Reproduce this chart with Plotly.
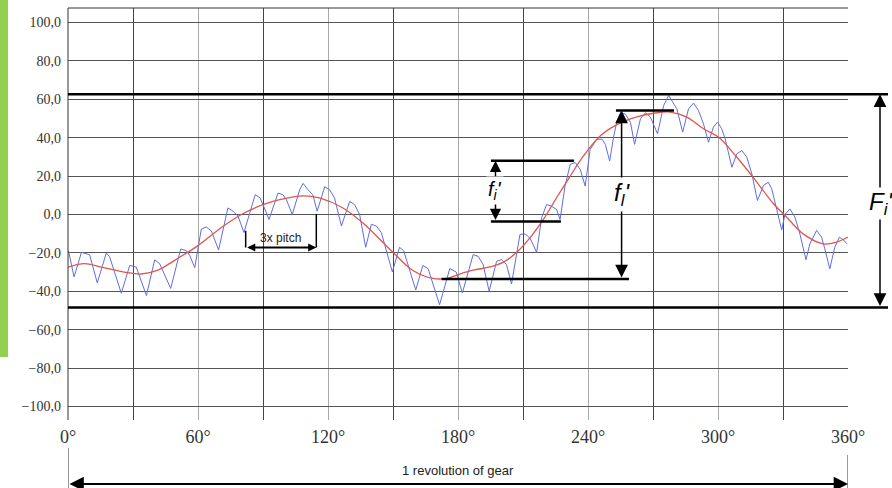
import plotly.graph_objects as go

# ---- data ----
blue_deg = [0.2, 2.8, 6.2, 8, 10, 13.5, 17.7, 19.2, 24.6, 28.5, 31.5, 36.2, 40, 42.3, 47.4, 52, 54.6, 56.2, 58.5,
            61.5, 63.8, 66.2, 69.5, 73.8, 76.2, 78.5, 81.2, 86.4, 88.7,
            90, 92.8, 96.9, 99.2, 100.8, 103.5, 106.9, 108.5, 110.8, 113, 115, 118.5, 120.8, 123, 126.2, 130,
            132.3, 134.6, 137.4, 140, 142.3, 144.6, 149.7, 153, 154.9, 160.5, 163.8, 166.2, 171.5, 176.2, 179.2,
            182, 187, 189.3, 191.6, 194.4, 197.8, 200, 202.4, 204.7, 208.6, 210.9, 213.2, 216.3, 218.6, 220.9,
            223.2, 225.5, 227.1, 229.4, 231.8, 234.1, 236.4, 238.7, 241, 244.1, 246.5, 248, 250, 251.9, 253.4,
            255, 257.3, 259.6, 261.5,
            264.2, 266.5, 268.8, 272.1, 274.9, 277.2, 279.5, 281, 283.7, 286.4, 288.7, 291, 293.3, 295.6, 297.9,
            299.8, 301.7, 303.3, 306.4, 308.7, 311, 313.3, 315.6, 318.2, 321, 323.2, 324.8, 326.3, 329.4, 330.9,
            333.2, 335.5, 337.8, 340.6, 342.4, 345.5, 347.8, 349.3, 351.6, 353.9, 356, 357.8, 359.6]
blue_val = [-18.8, -32.5, -19.7, -20.5, -21, -35.6, -20, -22, -41, -26.5, -27.4, -42.2, -23.6, -25.6, -38.5, -18, -18.8, -21.4, -27.7,
            -7.7, -6.5, -8.6, -18.5, 3.4, 1.7, -0.9, -9.4, 10.3, 8.6,
            5.1, -2.6, 11.1, 10.3, 7.7, 0, 12.8, 16.2, 12.8, 10.3, 1.7, 14.5, 12.8, 8.6, -6, 6.8,
            5.1, 0, -17.1, -5.1, -6, -9.4, -29.9, -17.1, -18.8, -39.3, -26.5, -28.2, -47, -28.2, -30,
            -40.9, -20.9, -21.8, -26.1, -40, -24.4, -23.5, -26.1, -36.2, -10.4, -10.1, -12.2, -19.7, -1.7, 5.2,
            4.3, 2.6, -2.6, 14.8, 26.1, 27, 23.5, 14.8, 33.9, 39.2, 39.2, 36.5, 27.8, 40.9, 48.7,
            53.1, 52.2, 47.9, 36.5,
            49.8, 53, 50.7, 42, 56.7, 62, 57.6, 55, 42.9, 55, 58, 54.1, 47.2, 37.6, 45.5,
            48.1, 44.6, 39.4, 24.6, 31.6, 33.3, 29.8, 21.2, 7.3, 15.1, 16.8, 13.4, 6.4, -8, 0,
            2.9, -1.4, -10.1, -23.6, -15.3, -8.3, -11.8, -17.9, -28.3, -17, -11.8, -13.2, -15.3]

red_deg = [0, 7.7, 15.4, 26, 33.8, 41.5, 49, 60, 70.8, 80, 90, 97.7, 108.5, 116, 126.9, 136, 150, 159, 168.5,
           174.6, 180.8, 187, 194.7, 201, 207, 213.2, 219.4, 225.5, 231.8, 237.9, 245.6, 253.4, 262.6,
           270.3, 278, 285.6, 293.3, 300.2, 308.7, 316.4, 325.6, 331.7, 339.3, 348.5, 354.7, 360]
red_val = [-27.4, -25.6, -27.4, -30, -31, -29, -24, -16.2, -6.8, 0, 5.1, 7.7, 9.7, 8.6, 3.4, -4.3, -19.7, -29, -33.3,
           -33.3, -31, -29, -27.3, -24.8, -19.8, -12.2, -2.6, 8.7, 20, 30.5, 40.9, 46.8, 50.8,
           52.7, 53.3, 50.7, 44.6, 40.3, 29.8, 19.1, 5.6, -1.4, -10.1, -15.3, -14.4, -11.8]

y_tickvals = [100, 80, 60, 40, 20, 0, -20, -40, -60, -80, -100]
y_ticktext = ["100,0", "80,0", "60,0", "40,0", "20,0", "0,0", "\u221220,0", "\u221240,0", "\u221260,0", "\u221280,0", "\u2212100,0"]
x_tickvals = [0, 60, 120, 180, 240, 300, 360]
x_ticktext = ["0°", "60°", "120°", "180°", "240°", "300°", "360°"]

# annotation levels (deviation markers)
Fi_top, Fi_bot = 62.6, -48.4
fl_top, fl_bot = 54.2, -33.6
fi_top, fi_bot = 28.0, -3.6

W, H = 892, 488
ML, MR, MT, MB = 68, 44, 8, 68
PW, PH = W - ML - MR, H - MT - MB


def px2paper_x(px):
    return (px - ML) / PW


def px2paper_y(py):
    return (H - MB - py) / PH


fig = go.Figure()
fig.add_trace(go.Scatter(x=blue_deg, y=blue_val, mode="lines",
                         line=dict(color="rgb(95,110,225)", width=1), hoverinfo="skip"))
fig.add_trace(go.Scatter(x=red_deg, y=red_val, mode="lines", line_shape="spline",
                         line=dict(color="rgb(225,85,75)", width=1.3), hoverinfo="skip"))

serif = "Liberation Serif, Times New Roman, serif"
sans = "Liberation Sans, Arial, sans-serif"

fig.update_layout(
    width=W, height=H, margin=dict(l=ML, r=MR, t=MT, b=MB),
    paper_bgcolor="white", plot_bgcolor="white", showlegend=False,
    xaxis=dict(range=[0, 360], tickvals=x_tickvals, ticktext=x_ticktext,
               showgrid=True, gridcolor="#aaaaaa", gridwidth=1,
               minor=dict(dtick=30, tick0=0, showgrid=True, gridcolor="#444444", gridwidth=1),
               zeroline=False, showline=False, ticks="",
               tickfont=dict(family=serif, size=18, color="#333"), ticklabelstandoff=4),
    yaxis=dict(range=[-107, 107.5], tickvals=y_tickvals, ticktext=y_ticktext,
               showgrid=True, gridcolor="#555555", gridwidth=1, zeroline=False, showline=False,
               ticks="", tickfont=dict(family=serif, size=14, color="#333"), ticklabelstandoff=6),
)

shapes = []
# frame: left and top
shapes.append(dict(type="line", xref="paper", yref="paper", x0=0, x1=0, y0=0, y1=1,
                   line=dict(color="#333", width=1)))
shapes.append(dict(type="line", xref="paper", yref="paper", x0=0, x1=1, y0=1, y1=1,
                   line=dict(color="#333", width=1)))
# green side bar
shapes.append(dict(type="rect", xref="paper", yref="paper", x0=px2paper_x(0), x1=px2paper_x(8),
                   y0=px2paper_y(357), y1=px2paper_y(-2), fillcolor="rgb(146,208,80)", line=dict(width=0), layer="below"))
# F_i' limit lines
for yv in (Fi_top, Fi_bot):
    shapes.append(dict(type="line", xref="paper", yref="y", x0=0, x1=px2paper_x(888), y0=yv, y1=yv,
                       line=dict(color="black", width=2.5)))
# f_l' lines
shapes.append(dict(type="line", xref="x", yref="y", x0=252.9, x1=279.7, y0=fl_top, y1=fl_top, line=dict(color="black", width=2.5)))
shapes.append(dict(type="line", xref="x", yref="y", x0=172.4, x1=258.9, y0=fl_bot, y1=fl_bot, line=dict(color="black", width=2.5)))
# f_i' lines
shapes.append(dict(type="line", xref="x", yref="y", x0=195.2, x1=233.5, y0=fi_top, y1=fi_top, line=dict(color="black", width=2.5)))
shapes.append(dict(type="line", xref="x", yref="y", x0=195.2, x1=227.5, y0=fi_bot, y1=fi_bot, line=dict(color="black", width=2.5)))
# 3x pitch verticals
shapes.append(dict(type="line", xref="x", yref="y", x0=82, x1=82, y0=-17.2, y1=-8.5, line=dict(color="black", width=1.5)))
shapes.append(dict(type="line", xref="x", yref="y", x0=114.6, x1=114.6, y0=-17.2, y1=0.3, line=dict(color="black", width=1.5)))
# revolution bracket verticals
shapes.append(dict(type="line", xref="x", yref="paper", x0=0, x1=0, y0=px2paper_y(448), y1=px2paper_y(490), line=dict(color="#333", width=1)))
shapes.append(dict(type="line", xref="x", yref="paper", x0=360, x1=360, y0=px2paper_y(455), y1=px2paper_y(490), line=dict(color="#333", width=1)))
fig.update_layout(shapes=shapes)

ann = []
# F_i' arrow
ann.append(dict(xref="paper", yref="y", x=px2paper_x(880), y=Fi_top, axref="pixel", ayref="y", ax=0, ay=Fi_bot,
                showarrow=True, arrowside="end+start", arrowhead=2, startarrowhead=2, arrowsize=1.7,
                startarrowsize=1.7, arrowwidth=1.5, arrowcolor="black", text=""))
ann.append(dict(xref="paper", yref="paper", x=px2paper_x(868), y=px2paper_y(203), xanchor="left", yanchor="middle",
                showarrow=False, bgcolor="white", text="<i>F<sub>i</sub>'</i>", borderpad=0,
                font=dict(family=sans, size=24, color="black")))
# f_l' arrow
ann.append(dict(xref="x", yref="y", x=255.5, y=fl_top, axref="x", ayref="y", ax=255.5, ay=fl_bot,
                showarrow=True, arrowside="end+start", arrowhead=2, startarrowhead=2, arrowsize=1.7,
                startarrowsize=1.7, arrowwidth=1.5, arrowcolor="black", text=""))
ann.append(dict(xref="x", yref="paper", x=255.5, y=px2paper_y(194), xanchor="center", yanchor="middle",
                showarrow=False, bgcolor="white", text="<i>f<sub>l</sub>'</i>",
                font=dict(family=sans, size=24, color="black")))
# f_i' arrow
ann.append(dict(xref="x", yref="y", x=197.3, y=fi_top, axref="x", ayref="y", ax=197.3, ay=fi_bot,
                showarrow=True, arrowside="end+start", arrowhead=2, startarrowhead=2, arrowsize=1.5,
                startarrowsize=1.5, arrowwidth=1.5, arrowcolor="black", text=""))
ann.append(dict(xref="x", yref="paper", x=197.3, y=px2paper_y(190), xanchor="center", yanchor="middle",
                showarrow=False, bgcolor="white", text="<i>f<sub>i</sub>'</i>",
                font=dict(family=sans, size=20, color="black")))
# 3x pitch arrow
ann.append(dict(xref="x", yref="y", x=114.6, y=-17.2, axref="x", ayref="y", ax=82, ay=-17.2,
                showarrow=True, arrowside="end+start", arrowhead=2, startarrowhead=2, arrowsize=0.9,
                startarrowsize=0.9, arrowwidth=1.8, arrowcolor="black", text=""))
ann.append(dict(xref="x", yref="y", x=98.3, y=-12, xanchor="center", yanchor="middle", showarrow=False,
                text="3x pitch", font=dict(family=sans, size=12, color="#222")))
# 1 revolution arrow
ann.append(dict(xref="x", yref="paper", x=360, y=px2paper_y(484), axref="x", ayref="pixel", ax=0, ay=0,
                showarrow=True, arrowside="end+start", arrowhead=2, startarrowhead=2, arrowsize=1.3,
                startarrowsize=1.3, arrowwidth=2.2, arrowcolor="black", text=""))
ann.append(dict(xref="x", yref="paper", x=180, y=px2paper_y(470), xanchor="center", yanchor="middle", showarrow=False,
                text="1 revolution of gear", font=dict(family=sans, size=13, color="#222")))
fig.update_layout(annotations=ann)

fig.write_html("out.html")
